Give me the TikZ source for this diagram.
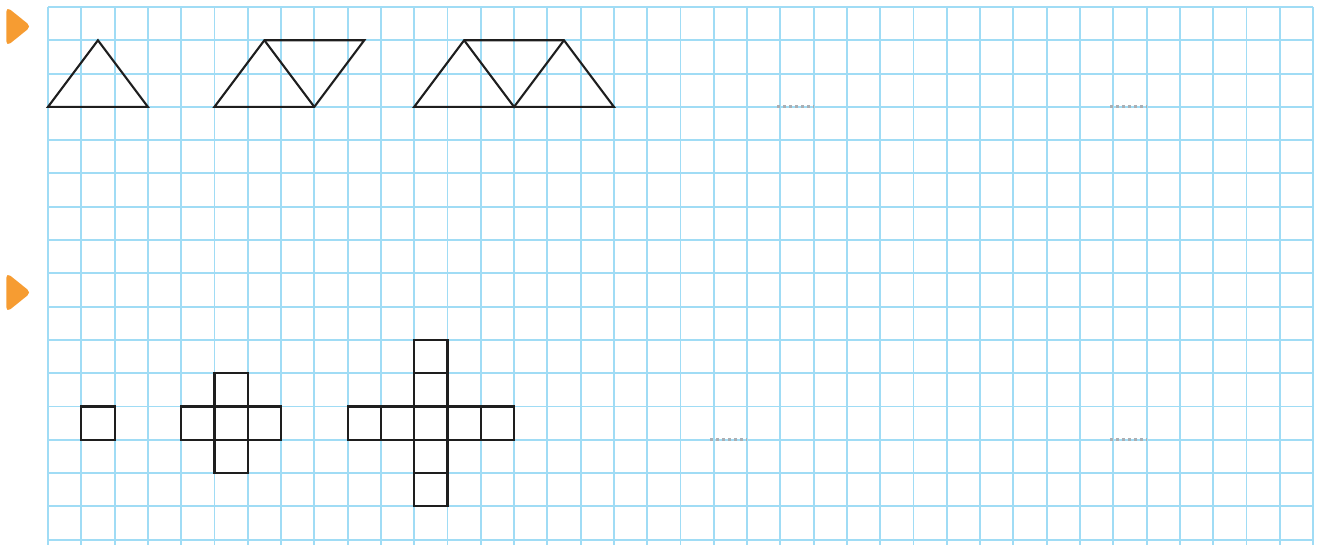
\documentclass[tikz,border=0pt]{standalone}
\usetikzlibrary{calc}
\definecolor{gridblue}{RGB}{160,220,245}
\definecolor{markorange}{RGB}{246,156,50}
\definecolor{ink}{RGB}{30,30,30}
\definecolor{dotgray}{RGB}{170,175,180}
\tikzset{
  gridline/.style={draw=gridblue, line width=1.9pt},
  figline/.style={draw=ink, line width=2.1pt, line join=miter},
  blankline/.style={draw=dotgray, line width=3pt, dash pattern=on 3pt off 3pt},
  markertri/.style={fill=markorange, draw=markorange, line width=1.5pt, rounded corners=4pt}
}
\begin{document}
\begin{tikzpicture}[x=1pt,y=-1pt]
\useasboundingbox (0,0) rectangle (1318,545);
% markers
\path[markertri] (7,8) -- (30,26.5) -- (7,45) -- cycle;
\path[markertri] (7,274) -- (30,292.5) -- (7,311) -- cycle;
\begin{scope}[shift={(48,7)}, x=33.29pt, y=-33.29pt]
  % grid
  \foreach \r in {0,...,16} \draw[gridline] (0,\r) -- (38,\r);
  \foreach \c in {0,...,38} \draw[gridline] (\c,0) -- (\c,16.2);
  % triangles
  \draw[figline] (0,3) -- (3,3) -- (1.5,1) -- cycle;
  \draw[figline] (5,3) -- (8,3) -- (9.5,1) -- (6.5,1) -- cycle;
  \draw[figline] (6.5,1) -- (8,3);
  \draw[figline] (11,3) -- (17,3) -- (15.5,1) -- (12.5,1) -- cycle;
  \draw[figline] (12.5,1) -- (14,3) -- (15.5,1);
  % crosses
  \draw[figline] (1,12) rectangle (2,13);
  \draw[figline] (5,11) rectangle (6,14);
  \draw[figline] (4,12) rectangle (7,13);
  \draw[figline] (5,12) -- (5,13) (6,12) -- (6,13);
  \draw[figline] (11,10) rectangle (12,15);
  \draw[figline] (9,12) rectangle (14,13);
  \foreach \y in {11,12,13,14} \draw[figline] (11,\y) -- (12,\y);
  \foreach \x in {10,11,12,13} \draw[figline] (\x,12) -- (\x,13);
  % blanks
  \draw[blankline] (21.9,3) -- (23,3);
  \draw[blankline] (31.9,3) -- (33,3);
  \draw[blankline] (19.9,13) -- (21,13);
  \draw[blankline] (31.9,13) -- (33,13);
\end{scope}
\end{tikzpicture}
\end{document}
